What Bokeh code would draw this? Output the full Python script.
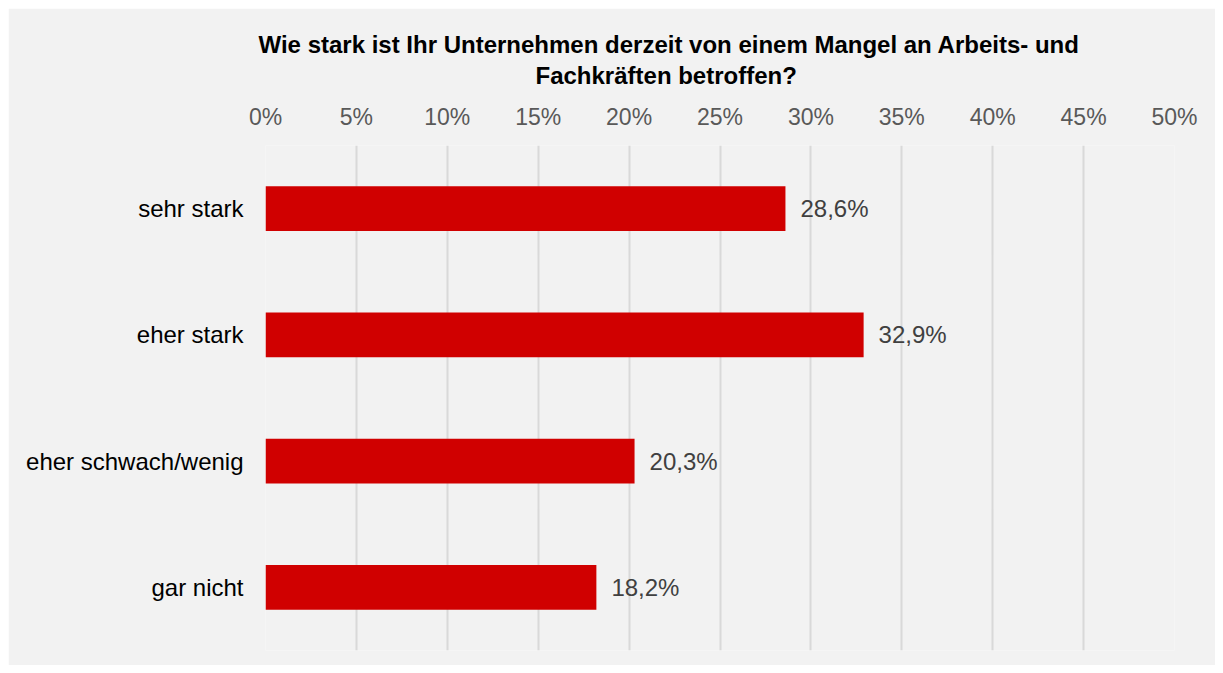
from bokeh.plotting import figure
from bokeh.models import ColumnDataSource, FixedTicker, PrintfTickFormatter, Title, LabelSet
from bokeh.core.properties import value
from bokeh.embed import file_html
from bokeh.resources import INLINE

categories = ["sehr stark", "eher stark", "eher schwach/wenig", "gar nicht"]
values = [28.6, 32.9, 20.3, 18.2]
labels = ["28,6%", "32,9%", "20,3%", "18,2%"]
ticks = [0, 5, 10, 15, 20, 25, 30, 35, 40, 45, 50]
title_lines = ["Wie stark ist Ihr Unternehmen derzeit von einem Mangel an Arbeits- und",
               "Fachkräften betroffen?"]

src = ColumnDataSource(dict(cat=categories, val=values, lab=labels))

p = figure(y_range=list(reversed(categories)), x_range=(0, 50),
           width=1207, height=657, output_backend="svg", toolbar_location=None,
           x_axis_location="above", min_border_left=257, min_border_right=41,
           min_border_bottom=15, min_border_top=137, background_fill_color="#f2f2f2",
           border_fill_color="#f2f2f2", outline_line_color=None)
p.margin = (8, 8, 8, 8)

p.hbar(y="cat", right="val", left=0, height=0.356, source=src,
       color="#d00000", line_color=None)

p.add_layout(LabelSet(x="val", y="cat", text="lab", source=src, x_offset=15,
                      text_baseline="middle", text_font=value("Liberation Sans"),
                      text_font_size="24px", text_color="#404040"))

p.xaxis.ticker = FixedTicker(ticks=ticks)
p.xaxis.formatter = PrintfTickFormatter(format="%d%%")
p.xaxis.axis_line_color = None
p.xaxis.major_tick_line_color = None
p.xaxis.minor_tick_line_color = None
p.xaxis.major_tick_out = 0
p.xaxis.major_label_standoff = 16
p.xaxis.major_label_text_font = "Liberation Sans"
p.xaxis.major_label_text_font_size = "23px"
p.xaxis.major_label_text_color = "#595959"

p.yaxis.axis_line_color = None
p.yaxis.major_tick_line_color = None
p.yaxis.minor_tick_line_color = None
p.yaxis.major_tick_out = 0
p.yaxis.major_label_standoff = 22
p.yaxis.major_label_text_font = "Liberation Sans"
p.yaxis.major_label_text_font_size = "24px"
p.yaxis.major_label_text_color = "#000000"

p.xgrid.grid_line_color = "#d9d9d9"
p.xgrid.grid_line_width = 2
p.ygrid.grid_line_color = None

p.title = None
offsets = [270, -7]
standoffs = [23, -18]
for line, off, so in zip(reversed(title_lines), offsets, standoffs):
    p.add_layout(Title(text=line, align="left", offset=off,
                       text_font="Liberation Sans", text_font_size="24px",
                       text_font_style="bold", text_color="#000000",
                       standoff=so), "above")

open("out.html", "w").write(file_html(p, INLINE))
